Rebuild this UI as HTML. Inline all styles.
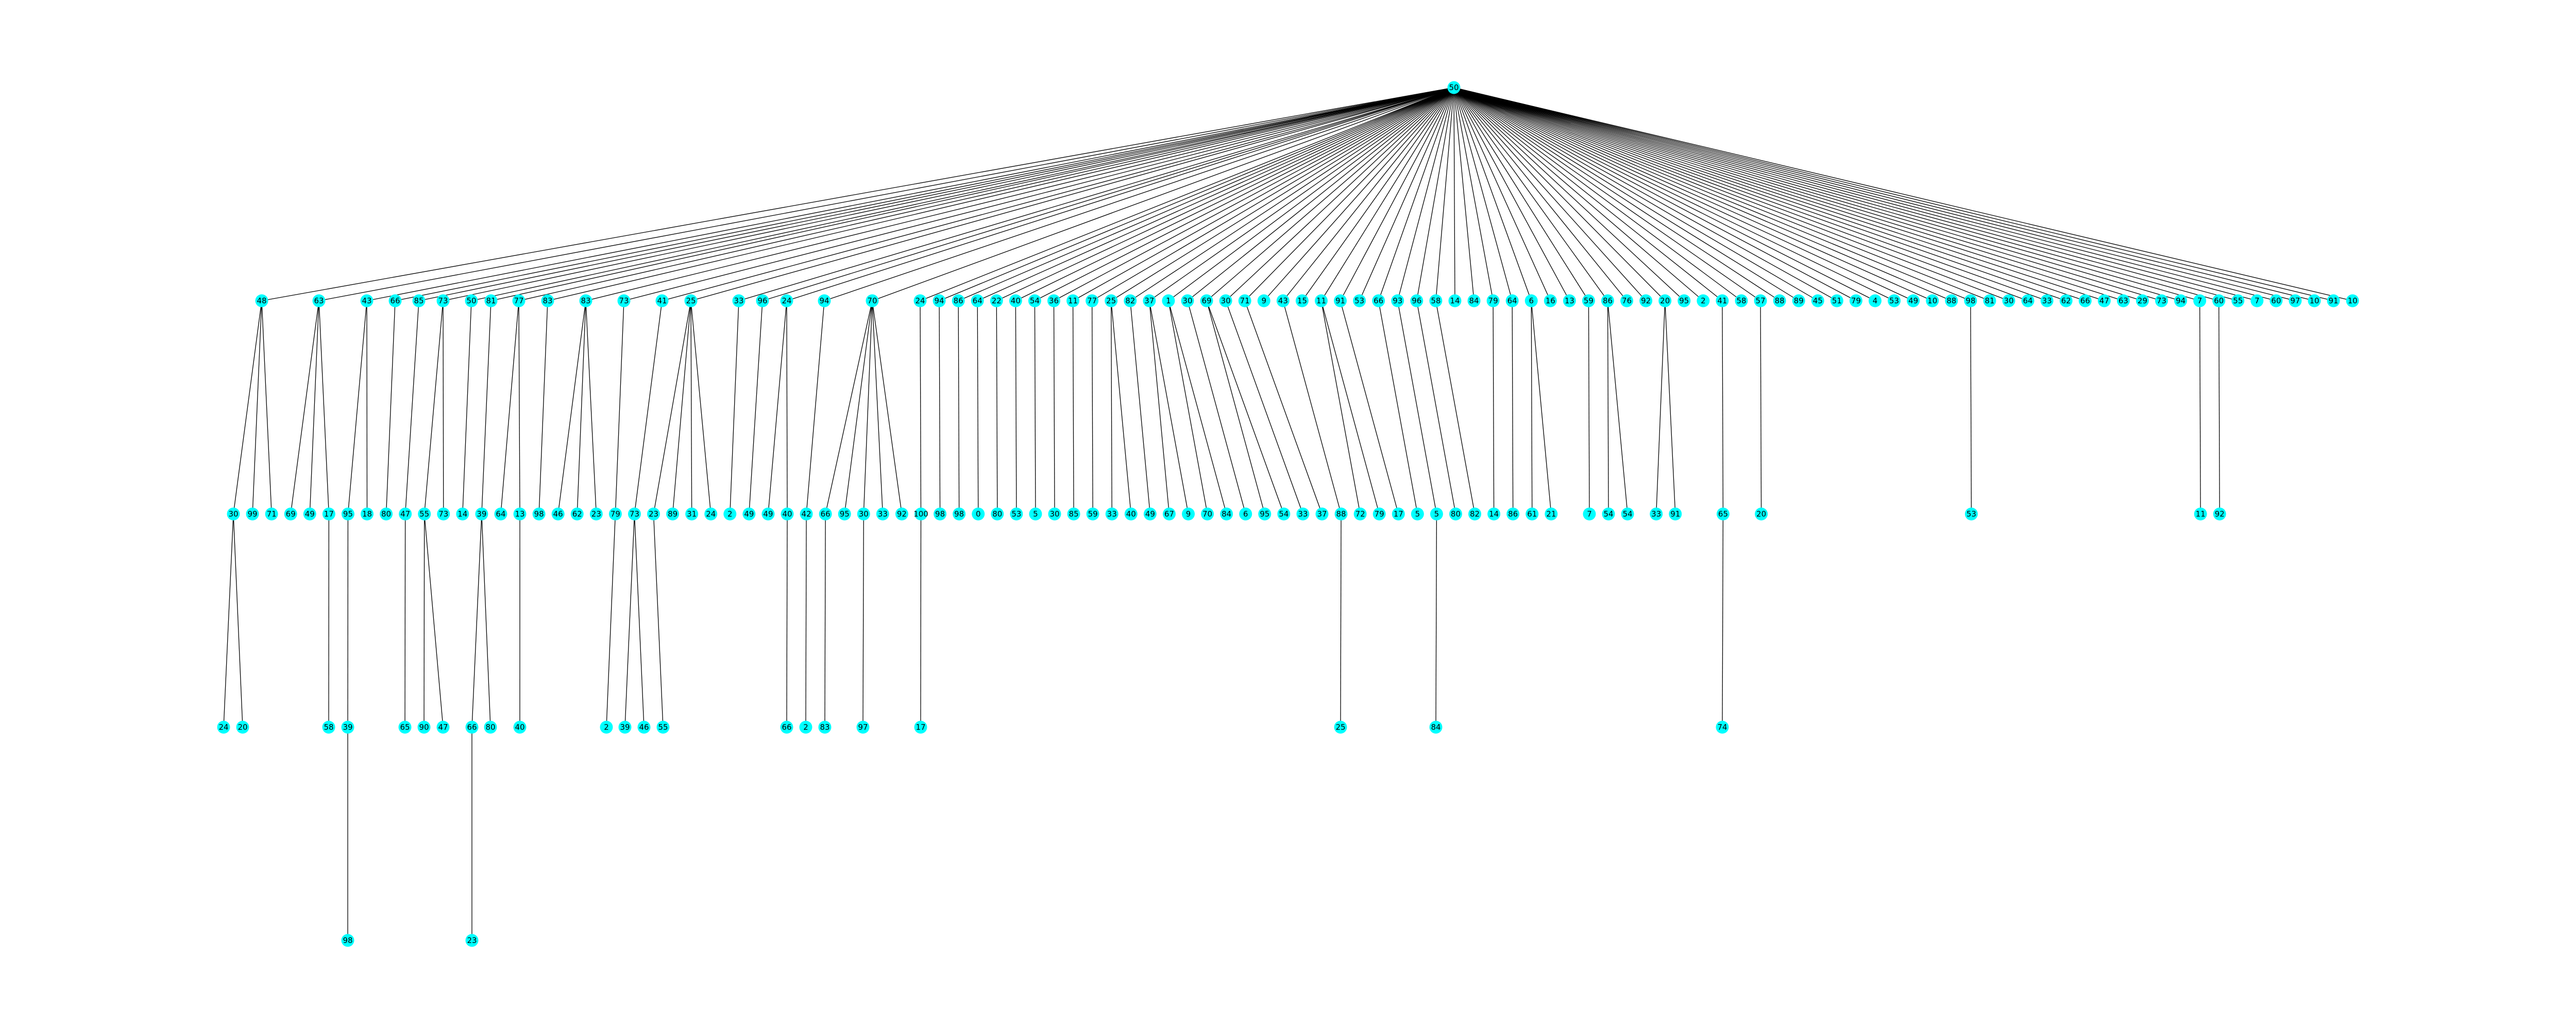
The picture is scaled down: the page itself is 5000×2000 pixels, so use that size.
<!DOCTYPE html>
<html><head><meta charset="utf-8">
<style>
html,body{margin:0;padding:0;background:#fff;}
svg{display:block;}
text{font-family:"DejaVu Sans","Liberation Sans",sans-serif;font-size:15px;fill:#000;}
</style></head>
<body>
<svg id="chart" width="5000" height="2000" viewBox="0 0 5000 2000" xmlns="http://www.w3.org/2000/svg">
<rect width="5000" height="2000" fill="#fff"/>
<g id="edges"></g>
<g id="nodes"></g>
</svg>
<script>
// root
const rootLabel = "50";
// level 1: sparse (left) nodes then dense grid nodes
const l1SparseLabels = [48,63,43,66,85,73,50,81,77,83,83,73,41,25,33,96,24,94,70];
const l1SparseX = [508,619,712,767,813,860,915,953,1007,1063,1137,1211,1285,1341,1434,1480,1527,1600,1693];
const l1DenseLabels = [24,94,86,64,22,40,54,36,11,77,25,82,37,1,30,69,30,71,9,43,15,11,91,53,66,93,96,58,14,84,79,64,6,16,13,59,86,76,92,20,95,2,41,58,57,88,89,45,51,79,4,53,49,10,88,98,81,30,64,33,62,66,47,63,29,73,94,7,60,55,7,60,97,10,91,10];
// level 2: labels, grid slots, parent index in level 1
const l2Labels = [30,99,71,69,49,17,95,18,80,47,55,73,14,39,64,13,98,46,62,23,79,73,23,89,31,24,2,49,49,40,42,66,95,30,33,92,100,98,98,0,80,53,5,30,85,59,33,40,49,67,9,70,84,6,95,54,33,37,88,72,79,17,5,5,80,82,14,86,61,21,7,54,54,33,91,65,20,53,11,92];
const l2Slots = [0,1,2,3,4,5,6,7,8,9,10,11,12,13,14,15,16,17,18,19,20,21,22,23,24,25,26,27,28,29,30,31,32,33,34,35,36,37,38,39,40,41,42,43,44,45,46,47,48,49,50,51,52,53,54,55,56,57,58,59,60,61,62,63,64,65,66,67,68,69,71,72,73,74.5,75.5,78,80,91,103,104];
const l2Parents = [0,0,0,1,1,1,2,2,3,4,5,5,6,7,8,8,9,10,10,10,11,12,13,13,13,13,14,15,16,16,17,18,18,18,18,18,19,20,21,22,23,24,25,26,27,28,29,29,30,31,31,32,32,33,34,34,35,36,38,40,40,41,43,44,45,46,49,50,51,51,54,55,55,58,58,61,63,74,86,87];
// level 3
const l3Labels = [24,20,58,39,65,90,47,66,80,40,2,39,46,55,66,2,83,97,17,25,84,74];
const l3X = [434,471,638,675,786,823,860,916,952,1009,1177,1213,1250,1287,1527,1564,1601,1675,1787,2602,2787,3343];
const l3Parents = [0,0,5,6,9,10,10,13,13,15,20,21,21,22,29,30,31,33,36,58,63,75];
// level 4
const l4Labels = [98,23];
const l4X = [675,916];
const l4Parents = [3,7];

const levelY = [170,584,998,1412,1826];
const denseX0 = 1786, denseStep = 37.07, l2X0 = 453;
const NS = "http://www.w3.org/2000/svg";
const edgesG = document.getElementById('edges');
const nodesG = document.getElementById('nodes');

function line(x1,y1,x2,y2){
  const l = document.createElementNS(NS,'line');
  l.setAttribute('x1',x1);l.setAttribute('y1',y1);l.setAttribute('x2',x2);l.setAttribute('y2',y2);
  l.setAttribute('stroke','#000');l.setAttribute('stroke-width','1.3');
  
  
  edgesG.appendChild(l);
}
function node(x,y,label){
  const g = document.createElementNS(NS,'g');
  
  
  const c = document.createElementNS(NS,'circle');
  c.setAttribute('cx',x);c.setAttribute('cy',y);c.setAttribute('r',12.5);c.setAttribute('fill','#00ffff');
  const t = document.createElementNS(NS,'text');
  t.setAttribute('x',x);t.setAttribute('y',y);t.setAttribute('text-anchor','middle');t.setAttribute('dominant-baseline','central');
  t.textContent = label;
  g.appendChild(c);g.appendChild(t);
  nodesG.appendChild(g);
}
const rootX = 2822;
const l1Labels = l1SparseLabels.concat(l1DenseLabels);
const l1X = l1SparseX.concat(l1DenseLabels.map((_,i)=>denseX0 + i*denseStep));
const l2X = l2Slots.map(s=>l2X0 + s*denseStep);

l1X.forEach(x=>line(rootX,levelY[0],x,levelY[1]));
l2X.forEach((x,i)=>line(l1X[l2Parents[i]],levelY[1],x,levelY[2]));
l3X.forEach((x,i)=>line(l2X[l3Parents[i]],levelY[2],x,levelY[3]));
l4X.forEach((x,i)=>line(l3X[l4Parents[i]],levelY[3],x,levelY[4]));

node(rootX,levelY[0],rootLabel);
l1X.forEach((x,i)=>node(x,levelY[1],l1Labels[i]));
l2X.forEach((x,i)=>node(x,levelY[2],l2Labels[i]));
l3X.forEach((x,i)=>node(x,levelY[3],l3Labels[i]));
l4X.forEach((x,i)=>node(x,levelY[4],l4Labels[i]));
</script>
</body></html>
